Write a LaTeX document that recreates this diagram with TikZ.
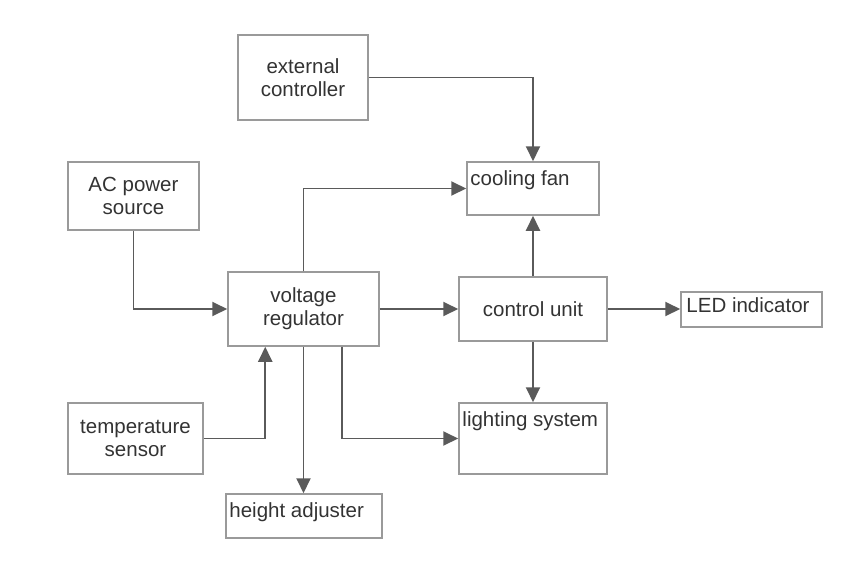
\documentclass[tikz,border=0pt]{standalone}
\usepackage{fontspec}
\setmainfont{Liberation Sans}
\usetikzlibrary{arrows.meta, positioning}
\definecolor{boxgray}{HTML}{9A9A9A}
\definecolor{linegray}{HTML}{5A5A5A}
\definecolor{textgray}{HTML}{333333}
\newcommand*{\labelfont}{\fontsize{20.5}{23}\selectfont}
\tikzstyle{block} = [draw=boxgray, line width=1.5pt, rectangle, inner sep=0pt, text=textgray, font=\labelfont]
\tikzstyle{unit} = [block, align=center]
\tikzstyle{caption} = [anchor=north west, inner xsep=4pt, inner ysep=9pt, text=textgray, font=\labelfont]
\tikzstyle{flow} = [-{Triangle[length=15pt, width=14pt]}, line width=1.9pt, draw=linegray]

\begin{document}
\begin{tikzpicture}[x=1pt, y=-1pt]
    \useasboundingbox (0,0) rectangle (857,587);

    % Blocks.
    \node (extctl) [unit, minimum width=130pt, minimum height=85pt] at (303,77.5) {external\\controller};
    \node (acsrc) [unit, minimum width=131pt, minimum height=68pt] at (133.5,196) {AC power\\source};
    \node (vreg) [unit, minimum width=151pt, minimum height=74pt] at (303.5,309) {voltage\\regulator};
    \node (ctrl) [unit, minimum width=148pt, minimum height=64pt] at (533,309) {control unit};
    \node (tsens) [unit, minimum width=135pt, minimum height=71pt] at (135.5,438.5) {temperature\\sensor};

    \node (fan) [block, minimum width=132pt, minimum height=53pt] at (533,188.5) {};
    \node (led) [block, minimum width=141pt, minimum height=35pt] at (751.5,309.5) {};
    \node (light) [block, minimum width=148pt, minimum height=71pt] at (533,438.5) {};
    \node (height) [block, minimum width=156pt, minimum height=44pt] at (304,516) {};

    % Labels.
    \node (fantext) [caption] at (fan.north west) {cooling fan};
    \node (ledtext) [caption, inner xsep=6pt, inner ysep=6pt] at (led.north west) {LED indicator};
    \node (lighttext) [caption] at (light.north west) {lighting system};
    \node (heighttext) [caption] at (height.north west) {height adjuster};

    % Arrows.
    \draw [flow] (extctl.east) -| (fan.north);
    \draw [flow] (vreg.north) |- (fan.west);
    \draw [flow] (acsrc.south) |- (vreg.west);
    \draw [flow] (vreg.east) -- (ctrl.west);
    \draw [flow] (ctrl.north) -- (fan.south);
    \draw [flow] (ctrl.east) -- (ctrl.east -| led.west);
    \draw [flow] (ctrl.south) -- (light.north);
    \draw [flow] (tsens.east) -| ([xshift=38pt]vreg.south west);
    \draw [flow] (vreg.south) -- (vreg.south |- height.north);
    \draw [flow] ([xshift=-38pt]vreg.south east) |- (light.west);
\end{tikzpicture}
\end{document}
